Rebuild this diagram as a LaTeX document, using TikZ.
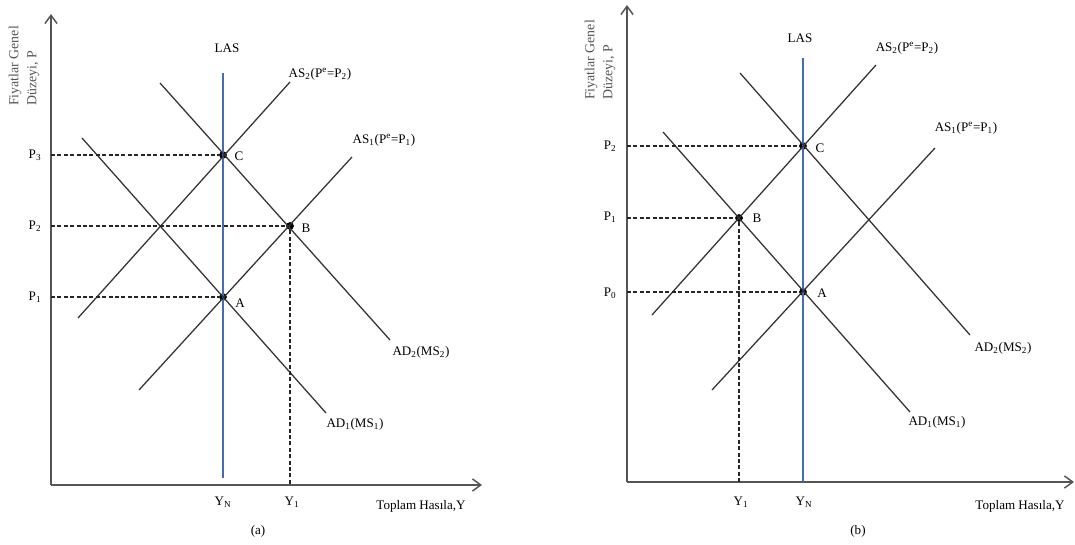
\documentclass[tikz,border=0pt]{standalone}
\usepackage{fontspec}
\setmainfont{Liberation Serif}
\usetikzlibrary{positioning,arrows.meta}
\definecolor{lasblue}{RGB}{70,108,178}
\definecolor{axisgray}{RGB}{85,85,85}

\begin{document}
\begin{tikzpicture}[
  x=0.75pt, y=-0.75pt,
  font=\fontsize{9.8}{11}\selectfont,
  axis/.style={draw=axisgray, line width=1.1pt, -{Straight Barb[length=2.2mm, width=3.2mm]}},
  curve/.style={draw=black!80, line width=0.95pt},
  las/.style={draw=lasblue, line width=0.8pt},
  guide/.style={draw=black!85, line width=0.8pt, dash pattern=on 3pt off 1.8pt},
  dot/.style={circle, fill=black, inner sep=0pt, minimum size=5.8pt},
  ylab/.style={rotate=90, align=left, text=axisgray, inner sep=0pt,
               font=\fontsize{10.4}{13.5}\selectfont}
]
\useasboundingbox (0,0) rectangle (1075,545);

%%%% panel (a)
\coordinate (ao) at (51,485);
\draw[axis] (ao) -- (51,14);
\draw[axis] (ao) -- (482,485);
\node[ylab] (aylab) at (24,66) {Fiyatlar Genel\\Düzeyi, P};

% equilibrium points
\node[dot] (aA) at (223,297) {};
\node[dot] (aB) at (290,226) {};
\node[dot] (aC) at (223,155) {};
\node (aAl) at (240,303) {A};
\node (aBl) at (306,228) {B};
\node (aCl) at (239,156) {C};

% curves
\draw[las] (223,73) -- (223,478);
\draw[curve] (78,318) -- (290,82);
\draw[curve] (139,390) -- (352,157);
\draw[curve] (82,138) -- (326,413);
\draw[curve] (160,83) -- (390,340);
\node (alas) at (227,48) {LAS};
\node (aas2) at (320,74) {AS\textsubscript{2}(P\textsuperscript{e}=P\textsubscript{2})};
\node (aas1) at (384,140) {AS\textsubscript{1}(P\textsuperscript{e}=P\textsubscript{1})};
\node (aad2) at (421,352) {AD\textsubscript{2}(MS\textsubscript{2})};
\node (aad1) at (355,424) {AD\textsubscript{1}(MS\textsubscript{1})};

% guide lines
\node (ap3) at (35,155) {P\textsubscript{3}};
\node (ap2) at (35,226) {P\textsubscript{2}};
\node (ap1) at (35,297) {P\textsubscript{1}};
\draw[guide] (51,155) -- (aC);
\draw[guide] (51,226) -- (aB);
\draw[guide] (51,297) -- (aA);
\draw[guide] (aB) -- (290,485);
\node (ayn) at (223,502) {Y\textsubscript{N}};
\node (ay1) at (292,502) {Y\textsubscript{1}};
\node (axlab) at (421,506) {Toplam Hasıla,Y};
\node (acap) at (258,531) {(a)};

%%%% panel (b)
\coordinate (bo) at (627,482);
\draw[axis] (bo) -- (627,5);
\draw[axis] (bo) -- (1074,482);
\node[ylab] (bylab) at (600,60) {Fiyatlar Genel\\Düzeyi, P};

% equilibrium points
\node[dot] (bA) at (803,292) {};
\node[dot] (bB) at (739,218) {};
\node[dot] (bC) at (803,146) {};
\node (bAl) at (822,293) {A};
\node (bBl) at (757,218) {B};
\node (bCl) at (820,148) {C};

% curves
\draw[las] (803,58) -- (803,482);
\draw[curve] (652,315) -- (876,65);
\draw[curve] (712,390) -- (935,148);
\draw[curve] (663,132) -- (910,412);
\draw[curve] (740,73) -- (970,335);
\node (blas) at (800,38) {LAS};
\node (bas2) at (907,48) {AS\textsubscript{2}(P\textsuperscript{e}=P\textsubscript{2})};
\node (bas1) at (966,128) {AS\textsubscript{1}(P\textsuperscript{e}=P\textsubscript{1})};
\node (bad2) at (1003,348) {AD\textsubscript{2}(MS\textsubscript{2})};
\node (bad1) at (937,422) {AD\textsubscript{1}(MS\textsubscript{1})};

% guide lines
\node (bp2) at (610,146) {P\textsubscript{2}};
\node (bp1) at (610,217) {P\textsubscript{1}};
\node (bp0) at (610,293) {P\textsubscript{0}};
\draw[guide] (627,146) -- (bC);
\draw[guide] (627,218) -- (bB);
\draw[guide] (627,292) -- (bA);
\draw[guide] (bB) -- (739,482);
\node (by1) at (741,502) {Y\textsubscript{1}};
\node (byn) at (804,502) {Y\textsubscript{N}};
\node (bxlab) at (1020,506) {Toplam Hasıla,Y};
\node (bcap) at (858,531) {(b)};
\end{tikzpicture}
\end{document}
